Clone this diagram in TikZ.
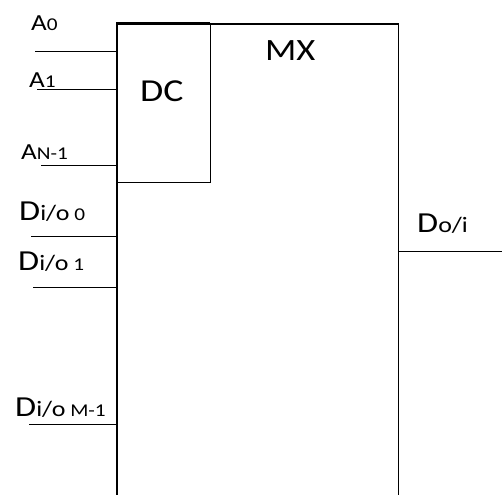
\documentclass[tikz,border=0pt]{standalone}
\usepackage{fontspec}
\setmainfont{Carlito}[FakeStretch=1.18]
\usepackage{tikz}
\usetikzlibrary{positioning}

\newcommand{\sz}[2]{{\fontsize{#1}{#1}\selectfont #2}}

\begin{document}
\begin{tikzpicture}[x=1pt,y=-1pt]
\tikzset{pin/.style={line width=1pt}, lbl/.style={anchor=base west, inner sep=0pt}}
\useasboundingbox (0,0) rectangle (502,494);
% multiplexer block, open at the bottom
\node[minimum width=281pt, minimum height=480pt, anchor=north west, inner sep=0pt] (mx) at (117,24) {};
\draw[line width=1.2pt] (mx.south west) -- (mx.north west) -- (mx.north east) -- (mx.south east);
% decoder
\node[minimum width=93pt, minimum height=159pt, anchor=north west, inner sep=0pt] (dc) at (117,23) {};
\draw[line width=1.2pt] (dc.north east) -- (dc.south east) -- (dc.south west);
\draw[line width=2.4pt] (dc.south west) -- (dc.north west) -- (dc.north east);
\node[lbl] (dctxt) at (140,102) {\sz{32}{DC}};
\node[lbl] (mxtxt) at (265,61) {\sz{31}{MX}};
% inputs
\foreach \n/\x/\y in {a0/35/52, a1/37/90, an/41/166, d0/31/236, d1/33/287, dm/29/424}{
  \coordinate (p\n) at (\x,\y);
  \draw[pin] (p\n) -- (p\n -| mx.west);
}
\node[lbl] (ta0) at (31,31) {\sz{23}{A}\sz{18}{0}};
\node[lbl] (ta1) at (29,88) {\sz{23}{A}\sz{18}{1}};
\node[lbl] (tan) at (21,160) {\sz{23}{A}\sz{18}{N-1}};
\node[lbl] (td0) at (19,220) {\sz{29}{D}\sz{22}{i/o}\sz{18}{ 0}};
\node[lbl] (td1) at (18,270) {\sz{29}{D}\sz{22}{i/o}\sz{18}{ 1}};
\node[lbl] (tdm) at (15,416) {\sz{29}{D}\sz{22}{i/o}\sz{18}{ M-1}};
% output
\coordinate (pout) at (502,251);
\draw[pin] (mx.east |- pout) -- (pout);
\node[lbl] (tout) at (417,232) {\sz{29}{D}\sz{22}{o/i}};
\end{tikzpicture}
\end{document}
